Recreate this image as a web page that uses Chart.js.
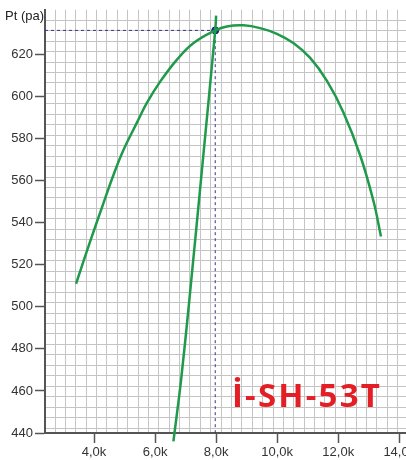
<!DOCTYPE html>
<html><head><meta charset="utf-8">
<script src="https://cdn.jsdelivr.net/npm/chart.js@4.4.1/dist/chart.umd.min.js"></script>
<style>
html,body{margin:0;padding:0;overflow:hidden;background:#fff;width:406px;height:460px;}
#wrap{position:relative;width:406px;height:460px;overflow:hidden;}
canvas{position:absolute;left:0;top:0;}
#ylab{position:absolute;left:5px;top:9px;font:13px "Liberation Sans",Arial,sans-serif;line-height:1;color:#222;white-space:nowrap;}
#brand{position:absolute;left:232px;top:378px;font:700 33px "Open Sans",sans-serif;line-height:1;letter-spacing:2.2px;color:#e31e24;white-space:nowrap;}
</style></head><body>
<div id="wrap"><canvas id="c" width="430" height="460"></canvas>
<div id="ylab">Pt (pa)</div><div id="brand">İ-SH-53T</div></div>
<script>
// Fan curve (flow in m3/h, total pressure in Pa)
const fanQ = [3410, 3870, 4300, 4630, 4960, 5400, 5730, 6160, 6710, 7260, 7970, 8350, 8900, 9440, 9990, 10530, 11080, 11630, 12170, 12720, 13160, 13400];
const fanP = [511, 531, 549, 562.5, 574.5, 587.5, 597, 607, 617.5, 625.5, 631.5, 633.4, 633.9, 632.6, 629.9, 625.5, 618.4, 607.5, 592.5, 572, 550, 533.5];
// System curve
const sysQ = [6600, 6850, 7120, 7580, 7970, 8000];
const sysP = [436, 465, 503, 572, 631.5, 638.5];
// Operating point
const opQ = 7970;
const opP = 631.5;
// Tick labels
const xTickValues = [4000, 6000, 8000, 10000, 12000, 14000];
const yTickValues = [440, 460, 480, 500, 520, 540, 560, 580, 600, 620];

const X_MIN = 2393, X_MAX = 14220, Y_MIN = 440, Y_MAX = 641.3;
const GRID_X0 = 2720.7, GRID_DX = 340.1, GRID_Y0 = 442.36, GRID_DY = 4.974;

const green = '#1f9a4b';
const tickFont = {family: '"Liberation Sans", Arial, sans-serif', size: 13};

const fanData = fanQ.map((q, i) => ({x: q, y: fanP[i]}));
const sysData = sysQ.map((q, i) => ({x: q, y: sysP[i]}));
const guideData = [{x: X_MIN, y: opP}, {x: opQ, y: opP}, {x: opQ, y: Y_MIN}];

function gridTicks(start, step, max) {
  const t = [];
  for (let v = start; v <= max + 1e-6; v += step) t.push({value: v});
  return t;
}

new Chart(document.getElementById('c'), {
  type: 'line',
  data: {
    datasets: [
      {data: fanData, borderColor: green, borderWidth: 2.5, pointRadius: 0, tension: 0.4, fill: false},
      {data: sysData, borderColor: green, borderWidth: 2.5, pointRadius: 0, tension: 0.3, fill: false, clip: false},
      {data: guideData, borderColor: '#34348a', borderWidth: 1, borderDash: [3, 3], pointRadius: 0, tension: 0, fill: false},
      {data: [{x: opQ, y: opP}], showLine: false, pointRadius: 3.5, pointBackgroundColor: '#1c3c8c', pointBorderColor: '#0d1f55', pointBorderWidth: 1}
    ]
  },
  options: {
    responsive: false,
    animation: false,
    devicePixelRatio: 1,
    layout: {padding: {top: 7, right: 24, left: 0, bottom: 0}},
    plugins: {legend: {display: false}, tooltip: {enabled: false}},
    scales: {
      x: {
        type: 'linear', axis: 'x', position: 'bottom', min: X_MIN, max: X_MAX,
        afterBuildTicks: a => { a.ticks = xTickValues.map(v => ({value: v})); },
        afterFit: s => { s.height = 27; },
        ticks: {callback: v => (v / 1000).toFixed(1).replace('.', ',') + 'k', color: '#333', font: tickFont, padding: 2, maxRotation: 0, autoSkip: false},
        grid: {drawOnChartArea: false, tickLength: 10, tickColor: '#555', tickWidth: 1.5},
        border: {color: '#555', width: 2}
      },
      y: {
        type: 'linear', axis: 'y', position: 'left', min: Y_MIN, max: Y_MAX,
        afterBuildTicks: a => { a.ticks = yTickValues.map(v => ({value: v})); },
        afterFit: s => { s.width = 45; },
        ticks: {callback: v => String(v), color: '#333', font: tickFont, padding: 2, autoSkip: false},
        grid: {drawOnChartArea: false, tickLength: 10, tickColor: '#555', tickWidth: 1.5},
        border: {color: '#555', width: 2}
      },
      xg: {
        type: 'linear', axis: 'x', position: 'bottom', min: X_MIN, max: X_MAX,
        afterBuildTicks: a => { a.ticks = gridTicks(GRID_X0, GRID_DX, X_MAX); },
        afterFit: s => { s.height = 0; },
        ticks: {display: false},
        grid: {color: '#c4c4c4', lineWidth: 1, drawTicks: false},
        border: {display: false}
      },
      yg: {
        type: 'linear', axis: 'y', position: 'left', min: Y_MIN, max: Y_MAX,
        afterBuildTicks: a => { a.ticks = gridTicks(GRID_Y0, GRID_DY, Y_MAX); },
        afterFit: s => { s.width = 0; },
        ticks: {display: false},
        grid: {color: '#c4c4c4', lineWidth: 1, drawTicks: false},
        border: {display: false}
      }
    }
  }
});
</script>
</body></html>
